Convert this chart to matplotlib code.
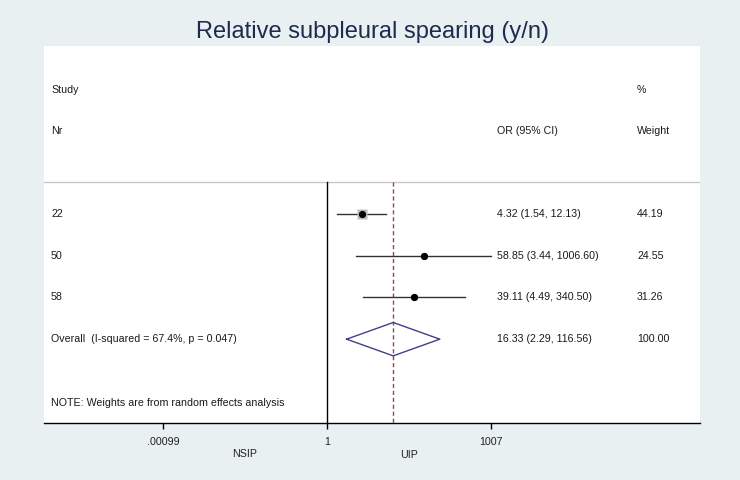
import matplotlib
matplotlib.use("Agg")
import matplotlib.pyplot as plt
from matplotlib.transforms import blended_transform_factory

plt.rcParams["font.family"] = ["Liberation Sans", "DejaVu Sans"]

# data
studies = ["22", "50", "58"]
or_vals = [4.32, 58.85, 39.11]
ci_low = [1.54, 3.44, 4.49]
ci_high = [12.13, 1006.60, 340.50]
weights = [44.19, 24.55, 31.26]
overall = 16.33
overall_low = 2.29
overall_high = 116.56
i_squared = 67.4
p_value = 0.047
tick_vals = [0.00099, 1, 1007]
tick_labels = [".00099", "1", "1007"]

BG = "#e8f0f1"
TXT = "#1a1a1a"
FS = 7.7

fig = plt.figure(figsize=(7.4, 4.8), dpi=100, facecolor=BG)
ax = fig.add_axes([44 / 740, (480 - 423) / 480, 656 / 740, (423 - 46) / 480])
ax.set_facecolor("white")
ax.set_xscale("log")
ax.set_xlim(10 ** -5.183, 10 ** 6.832)
ax.set_ylim(5.01, -4.03)

for s in ["top", "left", "right"]:
    ax.spines[s].set_visible(False)
ax.spines["bottom"].set_linewidth(1.0)
ax.set_yticks([])
ax.set_xticks(tick_vals)
ax.set_xticklabels(tick_labels, fontsize=FS, color="#222222")
ax.minorticks_off()
ax.tick_params(axis="x", length=4, width=1, pad=6)

fig.text(372 / 740, 1 - 32 / 480, "Relative subpleural spearing (y/n)",
         ha="center", va="center", fontsize=17, color="#1f2a4f")

tr = blended_transform_factory(ax.transAxes, ax.transData)
x_study, x_or, x_wt = 0.0107, 0.6905, 0.904

# header
ax.text(x_study, -2.98, "Study", transform=tr, fontsize=FS, color=TXT, va="center")
ax.text(x_study, -2.0, "Nr", transform=tr, fontsize=FS, color=TXT, va="center")
ax.text(x_or, -2.0, "OR (95% CI)", transform=tr, fontsize=FS, color=TXT, va="center")
ax.text(x_wt, -2.98, "%", transform=tr, fontsize=FS, color=TXT, va="center")
ax.text(x_wt, -2.0, "Weight", transform=tr, fontsize=FS, color=TXT, va="center")
ax.axhline(-0.77, color="#c8c8c8", lw=1)

# null line and overall line
ax.plot([1, 1], [-0.77, 5.01], color="black", lw=1)
ax.plot([overall, overall], [-0.77, 5.01], color="#a3404f", lw=1,
        dashes=(3, 2))

# studies
for i, name in enumerate(studies):
    ax.plot([ci_low[i], ci_high[i]], [i, i], color="#333333", lw=1)
    ax.plot(or_vals[i], i, marker="s", ms=weights[i] * 0.16,
            color="#bdbdbd", mec="none")
    ax.plot(or_vals[i], i, marker="o", ms=4.2, color="black")
    ax.text(x_study, i, name, transform=tr, fontsize=FS, color=TXT, va="center")
    ax.text(x_or, i, f"{or_vals[i]:.2f} ({ci_low[i]:.2f}, {ci_high[i]:.2f})",
            transform=tr, fontsize=FS, color=TXT, va="center")
    ax.text(x_wt, i, f"{weights[i]:.2f}", transform=tr, fontsize=FS,
            color=TXT, va="center")

# overall diamond
r = len(studies)
h = 0.4
ax.plot([overall_low, overall, overall_high, overall, overall_low],
        [r, r - h, r, r + h, r], color="#3f3f8f", lw=1, zorder=3)
ax.text(x_study, r, f"Overall  (I-squared = {i_squared:.1f}%, p = {p_value:.3f})",
        transform=tr, fontsize=FS, color=TXT, va="center")
ax.text(x_or, r, f"{overall:.2f} ({overall_low:.2f}, {overall_high:.2f})",
        transform=tr, fontsize=FS, color=TXT, va="center")
ax.text(x_wt, r, f"{sum(weights):.2f}", transform=tr, fontsize=FS,
        color=TXT, va="center")

ax.text(x_study, 4.53, "NOTE: Weights are from random effects analysis",
        transform=tr, fontsize=FS, color=TXT, va="center")

# direction labels
fig.text(245 / 740, 1 - 454 / 480, "NSIP", ha="center", va="center",
         fontsize=FS, color="#222222")
fig.text(409 / 740, 1 - 455 / 480, "UIP", ha="center", va="center",
         fontsize=FS, color="#222222")

fig.savefig("out.png", dpi=100, facecolor=BG)
